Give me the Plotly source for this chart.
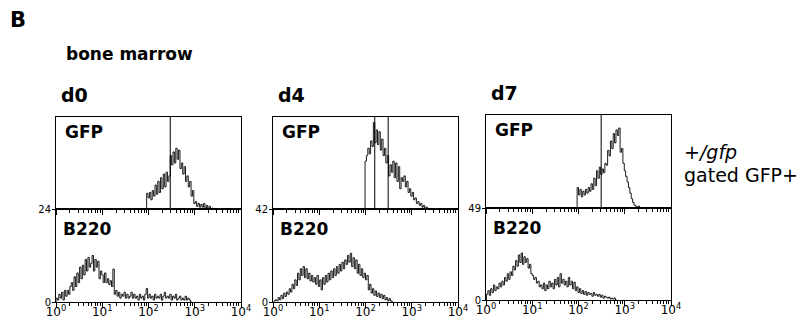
import plotly.graph_objects as go

# ---------------- data ----------------
days = ["d0", "d4", "d7"]
step = 0.03  # channel width in decades (log10 units)

# GFP histograms (relative counts, % of panel scale)
gfp_start = [1.96, 1.99, 1.97]
gfp_d0 = [17, 12, 18, 10, 20, 14, 26, 16, 30, 18, 34, 22, 38, 24, 40, 30, 36, 58, 48, 62,
          50, 66, 54, 64, 44, 50, 38, 46, 30, 36, 24, 30, 14, 20, 6, 8, 3, 6, 2, 5,
          2, 6, 1, 4, 1, 3, 0, 1]
gfp_d4 = [52, 58, 66, 60, 74, 68, 94, 72, 86, 70, 84, 64, 76, 58, 66, 50, 58, 36, 48, 40,
          52, 34, 50, 30, 46, 22, 34, 30, 36, 24, 30, 18, 22, 14, 18, 10, 12, 6, 8, 4,
          6, 2, 4, 1, 2, 0]
gfp_d7 = [22, 14, 20, 12, 18, 14, 20, 16, 22, 18, 26, 20, 32, 24, 40, 32, 44, 36, 42, 38,
          48, 46, 62, 56, 72, 64, 80, 70, 84, 78, 86, 60, 64, 48, 40, 34, 28, 22, 16, 10,
          6, 3, 2, 1, 2, 0]
gfp_ymax = [100, 100, 100]

# B220 histograms (counts)
b220_start = [0.00, 0.02, 0.01]
b220_d0 = [1, 0.5, 2, 1, 2.5, 0.5, 3, 1.5, 3, 2, 4,
           5, 3, 6.5, 4, 7.5, 5, 9, 6, 9.5, 7,
           11, 8, 11.5, 9, 10, 12, 8, 11, 9, 10.5,
           6, 8, 7, 5, 7.5, 5, 6, 4.5, 5.5, 4,
           8.5, 2, 3, 1.5, 2.5, 1, 2, 1.5, 2.5, 1,
           2, 1, 1.5, 2.5, 1, 2, 1, 1.5, 0.5, 2,
           1, 1.5, 0.5, 2, 3.5, 1, 2, 1, 1.5, 0.5,
           2, 1, 1.5, 1, 2, 0.5, 1.5, 2.5, 1, 1.5,
           1, 2, 0.5, 1.5, 1, 2, 0.5, 1, 1.5, 0.5,
           1, 0.5, 1.5, 0.5, 1, 0.5, 0]
b220_d4 = [0.5, 1, 0.5, 2, 1, 3, 1.5, 4, 2.5, 4.5,
           3.5, 6, 4.5, 8, 6, 10, 7.5, 13, 10, 15,
           12, 16, 11, 15, 10.5, 13, 9.5, 12, 9, 11,
           8, 12, 7, 10, 5.5, 11, 8, 12, 9, 13,
           10, 14, 11, 15, 12, 16, 13, 17, 14, 18,
           15, 19, 17, 21, 18, 22, 16, 20, 15, 19,
           13, 17, 12, 15, 11, 13, 10, 12, 5.5, 8,
           4, 6, 3, 5, 2.5, 4, 2, 3.5, 1.5, 3,
           1, 2, 0.5, 1.5, 0.5, 0]
b220_d7 = [3, 5, 2.5, 6, 4, 8, 5, 7, 6, 9,
           7, 10, 8, 12, 10, 14, 11, 15, 13, 18,
           16, 21, 18, 24, 20, 25, 19, 23, 20, 22,
           17, 19, 14, 13, 11, 12, 9, 10, 7, 8,
           6, 9, 5, 8, 6, 10, 7, 9, 6, 11,
           8, 12, 7, 14, 9, 11, 8, 10, 7, 12,
           8, 10, 6, 9.5, 5, 7, 4, 6, 3.5, 5,
           3, 4.5, 2.5, 4, 3, 3.5, 2, 4, 2.5, 3,
           2, 3, 1.5, 2.5, 1, 2, 1.5, 1, 1.5, 0.5,
           1, 0.5, 1, 0]
b220_ymax = [24, 42, 49]

# gate positions (log10 fluorescence)
gates = [[2.47], [2.20, 2.49], [2.49]]

decade_vals = [1, 10, 100, 1000, 10000]
decade_text = ["10<sup>0</sup>", "10<sup>1</sup>", "10<sup>2</sup>", "10<sup>3</sup>", "10<sup>4</sup>"]

# ---------------- layout geometry (pixels) ----------------
W, H = 807, 320
p_left = [56, 273, 486]
p_right = [241, 458, 671]
p_top = [117, 117, 115]
p_mid = [209, 209, 208]
p_bot = [302, 302, 300]


def fx(x):
    return x / W


def fy(y):
    return 1 - y / H


gfp_all = [gfp_d0, gfp_d4, gfp_d7]
b220_all = [b220_d0, b220_d4, b220_d7]


def step_xy(start, vals):
    xs = [10 ** start]
    ys = [0]
    for i, v in enumerate(vals):
        xs.append(10 ** (start + i * step))
        ys.append(v)
    xs.append(10 ** (start + len(vals) * step))
    ys.append(0)
    return xs, ys


minor_vals = [m * 10 ** d for d in range(4) for m in range(2, 10)]
line_style = dict(color="black", width=0.9)

fig = go.Figure()
layout = {}
annotations = []

for i in range(3):
    a = 2 * i + 1
    b = 2 * i + 2
    xa = "x" if a == 1 else f"x{a}"
    ya = "y" if a == 1 else f"y{a}"
    xb, yb = f"x{b}", f"y{b}"

    gx, gy = step_xy(gfp_start[i], gfp_all[i])
    fig.add_trace(go.Scatter(x=gx, y=gy, mode="lines", line=line_style, line_shape="hv",
                             xaxis=xa, yaxis=ya, showlegend=False, hoverinfo="skip"))
    for g in gates[i]:
        fig.add_trace(go.Scatter(x=[10 ** g, 10 ** g], y=[0, gfp_ymax[i]], mode="lines",
                                 line=dict(color="black", width=1), xaxis=xa, yaxis=ya,
                                 showlegend=False, hoverinfo="skip"))
    bx, by = step_xy(b220_start[i], b220_all[i])
    fig.add_trace(go.Scatter(x=bx, y=by, mode="lines", line=line_style, line_shape="hv",
                             xaxis=xb, yaxis=yb, showlegend=False, hoverinfo="skip"))

    xcommon = dict(type="log", range=[0, 4], domain=[fx(p_left[i]), fx(p_right[i])],
                   automargin=False,
                   showline=True, linecolor="black", linewidth=1, mirror=True,
                   showgrid=False, zeroline=False,
                   tickvals=decade_vals, ticks="outside", ticklen=5, tickcolor="black",
                   tickwidth=1,
                   minor=dict(tickvals=minor_vals, ticks="outside", ticklen=3,
                              tickcolor="black", tickwidth=1, showgrid=False))
    layout["xaxis" if a == 1 else f"xaxis{a}"] = dict(xcommon, anchor=ya, showticklabels=False)
    layout[f"xaxis{b}"] = dict(xcommon, anchor=yb, ticktext=decade_text, showticklabels=True,
                               ticklabelstandoff=-6,
                               tickfont=dict(family="DejaVu Sans", size=12, color="black"))
    layout["yaxis" if a == 1 else f"yaxis{a}"] = dict(
        domain=[fy(p_mid[i]), fy(p_top[i])], anchor=xa, range=[0, gfp_ymax[i]],
        automargin=False,
        showline=True, linecolor="black", linewidth=1, mirror=True,
        showgrid=False, zeroline=False, showticklabels=False, ticks="")
    layout[f"yaxis{b}"] = dict(
        domain=[fy(p_bot[i]), fy(p_mid[i])], anchor=xb, range=[0, b220_ymax[i]],
        automargin=False,
        showline=True, linecolor="black", linewidth=1, mirror=True,
        showgrid=False, zeroline=False, tickvals=[0, b220_ymax[i]],
        ticktext=["0", str(b220_ymax[i])], ticks="outside", ticklen=3, tickcolor="black",
        ticklabelstandoff=-1,
        tickfont=dict(family="DejaVu Sans", size=10, color="black"))

    # panel labels
    annotations.append(dict(text="<b>GFP</b>", x=fx(p_left[i] + 7), y=fy(p_top[i] + 15),
                            xref="paper", yref="paper", xanchor="left", yanchor="middle",
                            showarrow=False,
                            font=dict(family="DejaVu Sans", size=17, color="black")))
    annotations.append(dict(text="<b>B220</b>", x=fx(p_left[i] + 5), y=fy(p_mid[i] + 20),
                            xref="paper", yref="paper", xanchor="left", yanchor="middle",
                            showarrow=False,
                            font=dict(family="DejaVu Sans", size=17, color="black")))
    annotations.append(dict(text=f"<b>{days[i]}</b>", x=fx(p_left[i] + 3), y=fy(p_top[i] - 22),
                            xref="paper", yref="paper", xanchor="left", yanchor="middle",
                            showarrow=False,
                            font=dict(family="DejaVu Sans", size=19, color="black")))

annotations += [
    dict(text="<b>B</b>", x=fx(8), y=fy(20), xref="paper", yref="paper", xanchor="left",
         yanchor="middle", showarrow=False,
         font=dict(family="DejaVu Sans", size=21, color="black")),
    dict(text="<b>bone marrow</b>", x=fx(64), y=fy(54), xref="paper", yref="paper",
         xanchor="left", yanchor="middle", showarrow=False,
         font=dict(family="DejaVu Sans", size=17, color="black")),
    dict(text="<i>+/gfp</i>", x=fx(682), y=fy(152), xref="paper", yref="paper",
         xanchor="left", yanchor="middle", showarrow=False,
         font=dict(family="DejaVu Sans", size=19, color="black")),
    dict(text="gated GFP+", x=fx(682), y=fy(175), xref="paper", yref="paper",
         xanchor="left", yanchor="middle", showarrow=False,
         font=dict(family="DejaVu Sans", size=19, color="black")),
]

fig.update_layout(width=W, height=H, margin=dict(l=0, r=0, t=0, b=0, autoexpand=False),
                  paper_bgcolor="white", plot_bgcolor="white",
                  annotations=annotations, **layout)

fig.write_html("out.html", config={"displayModeBar": False},
               post_script="document.body.style.margin='0';document.body.style.overflow='hidden';")
